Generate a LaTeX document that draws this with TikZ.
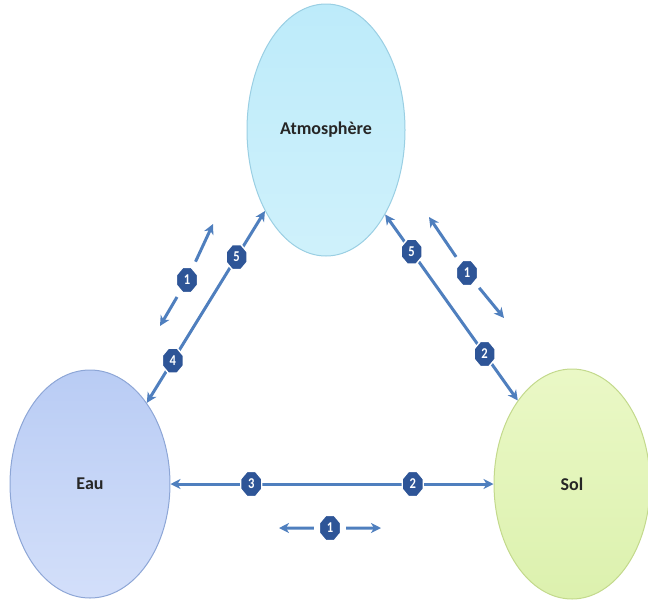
\documentclass[tikz,border=0pt]{standalone}
\usepackage{fontspec}
\setmainfont{Carlito}
\usetikzlibrary{arrows.meta,shapes.geometric}

\definecolor{flow}{HTML}{4F7FBE}
\definecolor{badgefill}{HTML}{2E5597}
\definecolor{atmtop}{HTML}{BDEBFA}
\definecolor{atmbot}{HTML}{CFF1FB}
\definecolor{atmline}{HTML}{9ACFE3}
\definecolor{eautop}{HTML}{B9CCF4}
\definecolor{eaubot}{HTML}{D3DFFA}
\definecolor{eauline}{HTML}{8DA6D6}
\definecolor{soltop}{HTML}{EAF8C6}
\definecolor{solbot}{HTML}{DCF1AE}
\definecolor{solline}{HTML}{C3D98C}

\tikzset{
  sphere/.style={ellipse, inner sep=0pt, line width=1pt,
    font=\bfseries\fontsize{18}{20}\selectfont, text=black!85},
  tip/.tip={Stealth[length=10pt,width=10pt,inset=3pt]},
  flowline/.style={draw=flow, line width=3pt, tip-tip},
  hint/.style={draw=flow, line width=3pt, -tip},
  badge/.style={regular polygon, regular polygon sides=8, minimum size=27pt,
    xscale=0.84, inner sep=0pt, fill=badgefill, draw=white, line width=1.4pt,
    text=white, font=\bfseries\fontsize{15}{15}\selectfont}
}

\begin{document}
\begin{tikzpicture}[x=1pt,y=-1pt]
\useasboundingbox (0,0) rectangle (648,600);

% the three compartments
\node[sphere, minimum width=158pt, minimum height=252pt, draw=atmline,
      top color=atmtop, bottom color=atmbot] (atm) at (326,130) {Atmosphère};
\node[sphere, minimum width=160pt, minimum height=228pt, draw=eauline,
      top color=eautop, bottom color=eaubot] (eau) at (90,484) {Eau};
\node[sphere, minimum width=156pt, minimum height=230pt, draw=solline,
      top color=soltop, bottom color=solbot] (sol) at (572,484) {Sol};

% exchanges between compartments
\draw[flowline] (atm.233) -- node[badge, pos=0.24] (a5) {5}
                             node[badge, pos=0.78] (e4) {4} (eau.55);
\draw[flowline] (atm.305) -- node[badge, pos=0.2] (a5r) {5}
                             node[badge, pos=0.75] (s2) {2} (sol.123);
\draw[flowline] (eau.0) -- node[badge, pos=0.25] (e3) {3}
                           node[badge, pos=0.75] (s2b) {2} (sol.180);

% direction hints for process 1
\node[badge] (l1) at (187,280) {1};
\coordinate (l1up) at (213,224);
\coordinate (l1dn) at (160,326);
\draw[hint, shorten <=7pt] (l1) -- (l1up);
\draw[hint, shorten <=7pt] (l1) -- (l1dn);

\node[badge] (r1) at (467,273) {1};
\coordinate (r1up) at (429,217);
\coordinate (r1dn) at (504,318);
\draw[hint, shorten <=7pt] (r1) -- (r1up);
\draw[hint, shorten <=7pt] (r1) -- (r1dn);

\node[badge] (b1) at (330,528) {1};
\coordinate (b1l) at (279,528);
\coordinate (b1r) at (381,528);
\draw[hint, shorten <=5pt] (b1) -- (b1l);
\draw[hint, shorten <=5pt] (b1) -- (b1r);
\end{tikzpicture}
\end{document}
